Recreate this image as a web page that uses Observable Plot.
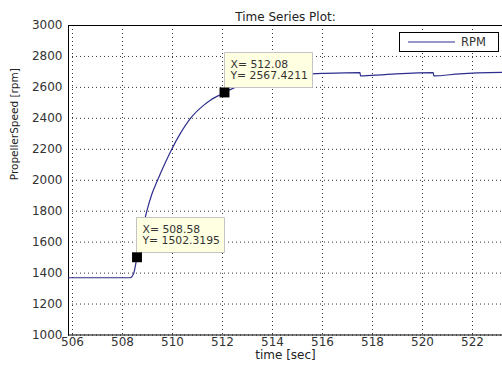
<!DOCTYPE html>
<html><head><meta charset="utf-8">
<script src="https://cdn.jsdelivr.net/npm/d3@7"></script>
<script src="https://cdn.jsdelivr.net/npm/@observablehq/plot@0.6"></script>
<style>
body{margin:0;background:#fff}
#wrap{position:relative;width:502px;height:369px;}
#legend{position:absolute;left:399px;top:32px;width:98px;height:18px;border:1px solid #000;background:#fff;font:11.5px "DejaVu Sans",sans-serif;color:#333;display:flex;align-items:center}
#legend svg{margin-left:8px;margin-right:6px}
svg g[aria-label="tip"], svg g[aria-label="tip"] *{filter:none !important}
</style></head><body><div id="wrap"></div><script>
const time = [505.84, 508.31, 508.44, 508.58, 508.71, 508.82, 508.98, 509.18, 509.38, 509.71, 509.98, 510.31, 510.71, 511.24, 511.5, 511.78, 512.08, 512.5, 513.0, 514.0, 515.0, 516.0, 517.5, 517.52, 518.5, 520.43, 520.45, 521.5, 523.2];
const rpm  = [1370, 1370, 1395, 1502, 1589, 1696, 1805, 1913, 1992, 2113, 2204, 2301, 2398, 2484, 2516, 2542, 2567, 2600, 2630, 2665, 2683, 2690, 2696, 2674, 2683, 2696, 2674, 2688, 2697];
const tipX = [508.58, 512.08];
const tipY = [1502.3195, 2567.4211];
const xTicks = [506, 508, 510, 512, 514, 516, 518, 520, 522];
const yTicks = [1000, 1200, 1400, 1600, 1800, 2000, 2200, 2400, 2600, 2800, 3000];
const title = "Time Series Plot:";
const xLabel = "time [sec]";
const yLabel = "PropellerSpeed [rpm]";
const legendLabel = "RPM";
const lineColor = "#2e2e8f";

const series = time.map((t, i) => ({t, v: rpm[i]}));
const tips = tipX.map((x, i) => ({x, y: tipY[i], label: `X= ${x.toFixed(2)}\nY= ${tipY[i].toFixed(4)}`}));

const chart = Plot.plot({
  width: 502, height: 369,
  marginLeft: 68, marginTop: 25, marginBottom: 34.5, marginRight: 0,
  style: {fontFamily: "DejaVu Sans", fontSize: "12px", color: "#333", background: "#fff"},
  x: {domain: [505.84, 523.2], ticks: xTicks, tickSize: 0, tickPadding: 2, label: null},
  y: {domain: [1000, 3000], ticks: yTicks, tickSize: 0, tickPadding: 6, label: null, tickFormat: "d"},
  marks: [
    Plot.gridX(xTicks, {stroke: "#000", strokeOpacity: 0.8, strokeDasharray: "1,3"}),
    Plot.gridY(yTicks, {stroke: "#000", strokeOpacity: 0.8, strokeDasharray: "1,3"}),
    Plot.frame({anchor: "left", stroke: "#000"}),
    Plot.frame({anchor: "top", stroke: "#000"}),
    Plot.frame({anchor: "bottom", stroke: "#000"}),
    Plot.line(series, {x: "t", y: "v", stroke: lineColor, strokeWidth: 1.2, curve: "monotone-x"}),
    Plot.tip(tips, {x: "x", y: "y", title: "label", anchor: "bottom-left", pointerSize: 5, fill: "#ffffe1", stroke: "#c4c4c4", fontSize: 10.8, textPadding: 5, lineHeight: 1.1}),
    Plot.dot(tips, {x: "x", y: "y", symbol: "square", r: 5.6, fill: "#000"}),
    Plot.text([title], {text: d => d, frameAnchor: "top", dy: -13, fontSize: 12, fill: "#222"}),
    Plot.text([xLabel], {text: d => d, frameAnchor: "bottom", dy: 24, fontSize: 12, fill: "#222"}),
    Plot.text([yLabel], {text: d => d, frameAnchor: "left", dx: -54, rotate: -90, fontSize: 10.5, fill: "#222"})
  ]
});
const wrap = document.getElementById("wrap");
wrap.append(chart);
const leg = document.createElement("div");
leg.id = "legend";
leg.innerHTML = `<svg width="47" height="4"><line x1="0" x2="47" y1="2" y2="2" stroke="${lineColor}" stroke-width="1.2"/></svg><span></span>`;
leg.querySelector("span").textContent = legendLabel;
wrap.append(leg);
</script></body></html>
